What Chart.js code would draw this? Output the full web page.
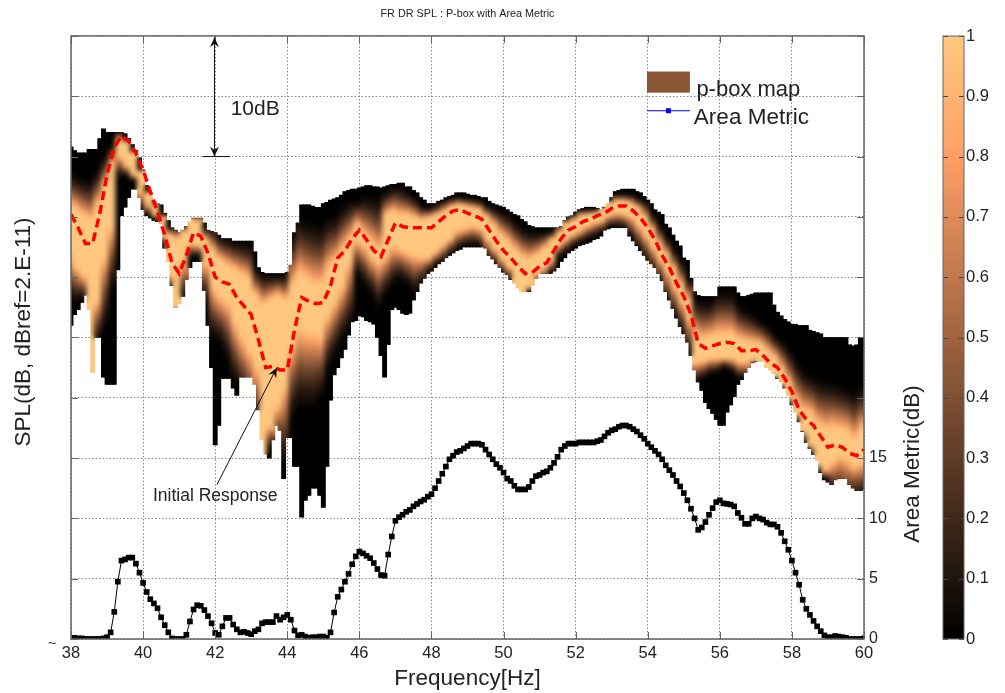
<!DOCTYPE html>
<html>
<head>
<meta charset="utf-8">
<title>FR DR SPL : P-box with Area Metric</title>
<script src="https://cdn.jsdelivr.net/npm/chart.js@4/dist/chart.umd.min.js"></script>
<style>
html, body { margin: 0; padding: 0; background: #fff; }
#wrap { position: relative; width: 1005px; height: 693px; overflow: hidden; }
#main { position: absolute; left: 0; top: 0; }
#bar { position: absolute; left: 930px; top: 0; }
</style>
</head>
<body>
<div id="wrap">
<canvas id="main" width="1005" height="693"></canvas>
<canvas id="bar" width="75" height="693"></canvas>
</div>
<script>
// p-box outline, one column every 0.1 Hz, all values on the 0-50 axis (5 units per grid line)
var upperEdge = [
    40.8,40.5,40.3,40.3,40.3,40.6,40.6,40.6,41.5,42.3,
    42.0,42.0,42.0,42.0,42.0,41.9,41.5,41.0,40.5,39.9,
    38.9,37.6,37.0,36.3,36.1,36.0,35.3,34.7,34.1,33.9,
    33.7,33.9,34.2,34.6,34.9,34.9,34.9,34.5,33.9,33.8,
    33.7,33.5,33.2,33.2,33.2,33.0,33.0,33.0,33.0,33.0,
    33.0,32.1,30.8,30.4,30.3,30.3,30.3,30.3,30.3,30.3,
    30.4,31.0,33.7,34.5,36.0,36.0,36.0,35.9,35.8,35.8,
    36.1,36.2,36.4,36.5,36.6,36.8,37.1,37.2,37.3,37.3,
    37.4,37.5,37.6,37.6,37.5,37.5,37.4,37.5,37.6,37.7,
    37.7,37.8,37.8,37.5,37.5,37.2,37.0,36.6,36.4,36.1,
    36.1,36.1,36.3,36.4,36.6,36.7,36.8,37.0,37.0,37.0,
    36.9,36.8,36.8,36.7,36.6,36.6,36.3,36.1,36.0,35.9,
    35.8,35.6,35.4,35.2,35.1,34.8,34.6,34.3,34.2,34.1,
    34.1,34.1,34.1,34.1,34.1,34.1,34.2,34.7,35.0,35.1,
    35.4,35.6,35.7,35.8,35.8,35.8,35.7,35.6,35.8,36.1,
    36.6,37.1,37.2,37.3,37.3,37.3,37.3,37.1,37.0,36.7,
    36.4,36.1,35.6,35.4,35.2,34.4,34.1,33.5,33.0,32.6,
    31.6,31.4,29.9,28.8,28.5,28.4,28.4,28.4,28.4,28.4,
    29.2,29.2,29.2,29.2,29.2,28.7,28.4,28.4,28.5,28.6,
    28.7,28.7,28.7,28.7,28.7,27.7,27.1,26.8,26.5,26.3,
    26.1,26.1,26.0,26.0,26.0,25.6,25.5,25.4,25.3,25.0,
    25.0,25.0,25.0,25.0,25.0,25.0,24.4,24.3,24.4,25.0,
    25.0
];
var lowerEdge = [
    26.0,26.9,27.3,27.9,28.5,27.3,22.1,25.0,25.0,21.7,
    21.1,21.1,21.1,30.6,35.1,35.8,36.6,37.3,37.3,36.6,
    35.6,35.1,34.9,34.7,34.6,34.4,32.4,31.3,29.3,27.5,
    27.8,28.4,29.8,30.8,31.3,31.3,31.3,28.9,26.0,22.5,
    16.1,17.7,21.6,21.6,21.6,20.8,20.2,21.7,21.7,21.7,
    21.7,21.1,19.0,16.5,15.3,15.0,16.5,17.7,17.3,13.3,
    16.7,16.7,14.3,14.3,10.1,11.5,11.9,12.5,12.5,11.9,
    10.9,14.3,19.8,21.9,22.5,23.3,24.0,25.2,26.3,26.4,
    26.8,26.7,26.4,26.3,26.1,25.0,23.5,21.7,24.4,27.3,
    27.5,27.3,27.0,26.9,27.0,28.1,28.8,29.5,29.9,30.3,
    30.5,30.8,31.1,31.3,31.6,31.8,32.0,32.2,32.3,32.5,
    32.5,32.5,32.5,32.5,32.5,32.4,31.8,31.5,31.1,30.8,
    30.4,30.2,29.8,29.5,29.1,28.8,28.8,28.8,29.3,29.9,
    30.3,30.3,30.3,30.3,30.5,30.8,31.3,31.6,32.0,32.2,
    32.4,32.6,32.7,32.8,32.9,33.1,33.2,33.4,33.9,34.0,
    34.1,34.1,34.1,34.1,34.1,33.4,33.0,32.6,32.2,31.8,
    31.4,31.1,30.8,30.3,29.7,28.8,28.1,27.4,26.6,25.9,
    25.3,24.6,23.5,22.3,21.3,20.6,19.6,19.1,18.7,18.2,
    17.7,17.7,18.8,19.4,20.1,21.1,21.5,22.1,22.5,22.9,
    23.0,23.0,23.0,22.5,22.3,22.0,21.6,21.3,20.8,20.2,
    19.4,18.8,18.0,17.2,16.3,15.8,15.3,14.8,13.8,13.2,
    13.0,12.8,13.2,13.3,13.3,13.3,12.8,12.5,12.3,12.3,
    12.4
];
// shading of the columns, read every 0.2 Hz
// where the column stops being black going down from the top
var darkTop = [
    38.9,38.5,38.2,38.1,38.9,40.1,41.0,42.1,41.5,40.5,
    39.0,37.2,36.4,35.3,34.2,34.2,34.3,35.1,35.1,34.2,
    34.2,33.5,33.3,33.1,33.0,32.9,30.8,30.4,30.3,30.3,
    30.3,33.5,35.1,34.7,34.6,34.3,35.1,35.1,36.0,36.4,
    36.4,36.8,36.8,36.6,37.2,37.6,37.6,37.2,36.7,36.0,
    35.8,36.1,36.4,36.6,36.7,36.6,36.6,36.4,36.0,35.8,
    35.6,35.3,34.7,34.2,33.9,33.8,33.8,33.8,34.3,34.9,
    35.2,35.6,35.6,35.6,35.6,36.4,36.9,36.9,36.9,36.6,
    36.4,35.3,34.4,33.4,32.4,31.4,29.9,28.3,28.1,28.1,
    28.9,28.9,28.9,27.7,27.3,26.9,26.4,26.0,25.2,24.8,
    24.0,23.1,22.3,21.9,21.6,21.5,21.3,21.1,20.8,20.5,
    21.1
];
// the full-brightness part of the column
var coreTop = [
    36.0,35.6,35.1,34.7,36.0,37.6,39.3,41.4,41.1,40.3,
    38.7,36.9,35.9,34.9,33.5,33.2,33.7,34.7,34.6,33.1,
    32.2,31.4,31.0,30.6,30.2,29.8,28.5,27.7,28.1,28.5,
    28.1,29.3,30.2,29.8,29.3,29.3,30.6,31.3,32.2,33.1,
    34.3,33.5,32.8,32.1,35.1,35.4,35.1,35.1,34.9,34.7,
    34.9,35.1,35.4,35.8,36.0,35.9,35.7,35.6,35.0,34.3,
    33.5,32.9,32.2,31.6,31.4,31.8,32.4,33.1,33.7,34.4,
    34.7,35.1,35.2,35.3,35.6,36.1,36.3,36.3,36.1,35.7,
    34.9,33.9,32.7,31.8,30.6,29.3,28.1,25.2,24.8,25.0,
    25.2,25.2,25.2,24.8,24.6,24.5,24.4,23.8,23.3,22.3,
    21.1,19.6,18.8,18.6,17.7,17.3,17.5,17.3,17.2,16.5,
    17.3
];
var coreBottom = [
    32.2,31.0,30.2,22.1,28.1,31.8,34.3,40.1,39.3,38.5,
    37.2,36.0,35.1,33.5,30.2,27.6,31.3,32.8,32.7,31.3,
    29.3,28.5,28.1,26.4,25.2,24.0,22.7,15.0,17.7,19.4,
    21.1,24.4,26.0,25.6,25.6,25.2,26.9,28.1,29.3,31.4,
    33.2,32.7,31.8,31.3,31.8,32.7,32.4,32.1,31.9,31.7,
    31.6,32.1,32.7,33.2,33.9,34.1,34.3,34.1,33.2,32.4,
    31.6,30.9,28.9,28.8,29.3,30.4,30.8,31.4,32.7,33.2,
    33.6,33.9,34.3,34.6,34.7,35.2,35.4,35.3,35.1,34.4,
    33.6,32.6,31.6,30.6,29.3,28.1,26.6,23.0,23.1,23.3,
    23.3,23.3,23.3,23.0,23.0,23.1,23.0,22.3,21.9,21.3,
    20.1,18.8,17.3,16.1,14.6,14.0,14.7,15.3,15.0,14.4,
    14.7
];
// where black starts again going down; may lie below the lower edge
var darkBottom = [
    28.1,27.7,28.1,22.1,24.4,25.6,28.9,38.3,38.3,38.0,
    35.4,35.1,34.9,32.7,28.9,27.3,28.1,31.6,31.6,28.1,
    24.8,24.4,23.1,21.1,19.8,19.0,17.3,14.0,15.7,15.7,
    14.0,18.2,19.0,19.0,19.0,19.8,22.3,23.5,24.8,25.6,
    30.2,29.3,28.5,27.3,28.5,29.3,29.8,29.3,28.5,29.3,
    30.4,31.0,31.2,31.8,32.2,32.5,32.6,32.5,31.6,31.1,
    30.3,29.8,28.8,28.8,29.3,29.3,29.8,30.3,31.6,32.0,
    32.5,32.8,33.1,33.3,33.7,34.1,34.1,34.0,33.2,32.2,
    31.3,30.4,29.5,27.9,26.7,25.4,23.7,21.1,21.5,21.9,
    22.1,22.5,22.1,21.5,21.5,23.1,23.0,22.3,21.9,20.6,
    20.1,18.8,17.3,16.1,14.6,13.2,11.9,11.5,11.1,11.5,
    11.5
];
var initialResponse = [
    35.2,34.1,32.8,32.8,35.3,38.5,40.8,41.7,41.3,40.3,
    38.9,37.1,35.4,33.5,31.2,30.3,31.8,33.7,33.4,32.0,
    30.0,29.6,29.4,28.3,27.6,26.9,24.8,22.5,22.6,22.3,
    22.3,25.6,28.3,28.0,27.8,27.9,29.3,31.6,32.2,33.2,
    33.9,33.1,32.2,31.7,33.1,34.5,34.2,34.1,34.1,34.1,
    34.1,34.6,35.1,35.5,35.6,35.3,35.1,34.8,33.9,33.0,
    32.2,31.6,30.9,30.3,30.4,30.9,31.2,32.2,33.2,33.9,
    34.2,34.6,34.8,35.1,35.3,35.7,35.9,35.9,35.5,34.9,
    34.1,33.1,31.8,30.8,29.5,28.4,26.9,24.5,24.1,24.3,
    24.5,24.6,24.5,23.9,23.9,24.0,23.5,22.9,22.5,21.6,
    20.5,19.0,18.2,17.7,16.8,15.9,16.1,15.9,15.4,15.2,
    15.7
];
// one marker every 0.1 Hz
var areaMetric = [
    0.1,0.1,0.05,0.05,0,0,0,0,0,0.05,
    0.15,0.55,2.25,4.75,6.5,6.6,6.75,6.75,6.25,5.5,
    4.65,3.9,3.3,2.95,2.55,1.8,1.15,0.55,0.05,0,
    0,0,0.35,1.45,2.45,2.8,2.75,2.4,1.9,1.3,
    0.5,0.35,1.05,1.75,1.75,1.2,0.8,0.55,0.6,0.5,
    0.4,0.65,0.8,1.3,1.4,1.4,1.4,1.9,1.6,1.8,
    2.0,1.6,0.7,0.3,0.35,0.2,0.1,0.15,0.15,0.2,
    0.2,0.1,0.55,2.2,3.5,4.1,4.75,5.4,6.2,6.85,
    7.25,7.1,6.9,6.7,6.3,5.8,5.3,5.25,7.0,8.5,
    9.8,10.1,10.3,10.55,10.7,11.0,11.2,11.4,11.55,11.8,
    12.0,12.5,13.1,13.7,14.3,14.9,15.2,15.5,15.6,15.8,
    16.0,16.2,16.2,16.2,16.1,15.7,15.3,14.9,14.5,14.2,
    13.8,13.3,13.1,12.7,12.4,12.4,12.4,12.6,13.1,13.5,
    13.6,13.8,13.9,14.2,14.6,15.1,15.7,16.0,16.2,16.2,
    16.2,16.3,16.3,16.3,16.3,16.3,16.4,16.5,16.8,17.1,
    17.3,17.4,17.6,17.7,17.7,17.6,17.4,17.2,16.9,16.6,
    16.2,15.9,15.6,15.3,14.9,14.4,14.0,13.6,13.1,12.65,
    12.1,11.5,10.8,10.0,9.05,9.25,9.7,10.3,10.85,11.35,
    11.5,11.25,11.2,11.15,11.0,10.45,10.05,9.55,9.55,10.0,
    10.15,10.0,9.9,9.65,9.5,9.5,9.3,8.8,8.1,7.4,
    6.5,5.5,4.5,3.25,2.5,2.0,1.5,1.05,0.65,0.3,
    0.15,0.15,0.25,0.2,0.15,0.1,0,0,0,0,
    0.05
];
var metricTickLabels = [0, 5, 10, 15];
var colorbarRange = [0, 1];
var legendLabels = ['p-box map', 'Area Metric'];

var PLOT = { left: 71, right: 864, top: 36, bottom: 639 };
var TEXT = '#222';
var FONT = '"Liberation Sans", Arial, sans-serif';

// matlab copper
function copper(x) {
    var r = Math.min(255, 255 * 1.25 * x);
    var g = 255 * 0.7812 * x;
    var b = 255 * 0.4975 * x;
    return 'rgb(' + Math.round(r) + ',' + Math.round(g) + ',' + Math.round(b) + ')';
}

function levelAt(v, i) {
    if (v >= darkTop[i]) return v <= coreTop[i] ? 1 : 0;
    // the falloff stays dark for a while and then rises quickly
    if (v > coreTop[i]) return Math.pow((darkTop[i] - v) / (darkTop[i] - coreTop[i]), 1.5);
    if (v >= coreBottom[i]) return 1;
    if (v > darkBottom[i]) return Math.pow((v - darkBottom[i]) / (coreBottom[i] - darkBottom[i]), 1.5);
    return 0;
}

function columnFill(ctx) {
    var j = ctx.dataIndex;
    if (j === undefined) return '#000';
    var scale = ctx.chart.scales.y;
    var hi = upperEdge[j], lo = lowerEdge[j];
    var top = scale.getPixelForValue(hi), bottom = scale.getPixelForValue(lo);
    if (!isFinite(top) || !isFinite(bottom)) return '#000';
    var i = Math.round(j / 2);
    var grad = ctx.chart.ctx.createLinearGradient(0, top, 0, bottom);
    var points = [hi, lo, darkTop[i], coreTop[i], coreBottom[i], darkBottom[i]];
    [0.25, 0.5, 0.75, 0.9].forEach(function (t) {
        points.push(darkTop[i] - t * (darkTop[i] - coreTop[i]));
        points.push(darkBottom[i] + t * (coreBottom[i] - darkBottom[i]));
    });
    points = points.filter(function (v) { return v <= hi && v >= lo; });
    points.sort(function (a, b) { return b - a; });
    points.forEach(function (v) {
        grad.addColorStop((hi - v) / (hi - lo), copper(levelAt(v, i)));
    });
    return grad;
}

var columnBars = upperEdge.map(function (u, j) {
    return { x: 38 + j * 0.1, y: [lowerEdge[j], u] };
});
var responsePoints = initialResponse.map(function (v, i) {
    return { x: 38 + i * 0.2, y: v };
});
var metricPoints = areaMetric.map(function (v, j) {
    return { x: 38 + j * 0.1, y: v };
});

function drawArrowHead(c, x, y, angle, size) {
    c.save();
    c.translate(x, y);
    c.rotate(angle);
    c.beginPath();
    c.moveTo(0, 0);
    c.lineTo(-size, -size * 0.45);
    c.lineTo(-size * 0.65, 0);
    c.lineTo(-size, size * 0.45);
    c.closePath();
    c.fill();
    c.restore();
}

function putText(c, text, x, y, size, align, angle) {
    c.save();
    c.font = size + 'px ' + FONT;
    c.fillStyle = TEXT;
    c.textAlign = align || 'left';
    c.textBaseline = 'middle';
    c.translate(x, y);
    if (angle) c.rotate(angle);
    c.fillText(text, 0, 0);
    c.restore();
}

// soften the shading across columns but keep the stepped outline
var softenPlugin = {
    id: 'soften',
    afterDatasetDraw: function (chart, args) {
        if (args.meta.type !== 'bar') return;
        var c = chart.ctx, a = chart.chartArea;
        var off = document.createElement('canvas');
        off.width = chart.width;
        off.height = chart.height;
        var offCtx = off.getContext('2d');
        c.save();
        c.beginPath();
        c.rect(a.left, a.top, a.right - a.left, a.bottom - a.top);
        c.clip();
        c.beginPath();
        args.meta.data.forEach(function (el) {
            el.draw(offCtx);
            var p = el.getProps(['x', 'y', 'base', 'width'], true);
            c.rect(p.x - p.width / 2, Math.min(p.y, p.base), p.width, Math.abs(p.base - p.y));
        });
        c.clip();
        c.filter = 'blur(2.5px)';
        c.drawImage(off, 0, 0);
        c.restore();
    }
};

// inward tick marks, box, legend and the two notes inside the plot
var notesPlugin = {
    id: 'notes',
    afterDraw: function (chart) {
        var c = chart.ctx, xs = chart.scales.x, ys = chart.scales.y, a = chart.chartArea;
        var px = function (f) { return xs.getPixelForValue(f); };
        var py = function (v) { return ys.getPixelForValue(v); };

        c.save();
        c.strokeStyle = '#666';
        c.lineWidth = 1;
        c.beginPath();
        xs.ticks.forEach(function (t) {
            var x = Math.round(px(t.value)) + 0.5;
            c.moveTo(x, a.bottom); c.lineTo(x, a.bottom - 7);
            c.moveTo(x, a.top); c.lineTo(x, a.top + 7);
        });
        ys.ticks.forEach(function (t) {
            var y = Math.round(py(t.value)) + 0.5;
            c.moveTo(a.left, y); c.lineTo(a.left + 7, y);
            c.moveTo(a.right, y); c.lineTo(a.right - 7, y);
        });
        c.stroke();
        c.lineWidth = 1.5;
        c.strokeRect(a.left, a.top, a.right - a.left, a.bottom - a.top);
        c.restore();

        // legend
        c.save();
        c.fillStyle = '#8B5633';
        c.fillRect(px(53.98), py(47.05), px(55.17) - px(53.98), py(45.3) - py(47.05));
        c.strokeStyle = '#0000ff';
        c.fillStyle = '#0000ff';
        c.lineWidth = 1;
        c.beginPath();
        c.moveTo(px(53.98), py(43.8));
        c.lineTo(px(55.17), py(43.8));
        c.stroke();
        c.fillRect(px(54.575) - 2.5, py(43.8) - 2.5, 5, 5);
        c.restore();
        putText(c, legendLabels[0], px(55.35), py(45.5), 22);
        putText(c, legendLabels[1], px(55.28), py(43.25), 22.5);

        // 10 dB span
        c.save();
        c.strokeStyle = '#111';
        c.fillStyle = '#111';
        c.lineWidth = 1;
        c.beginPath();
        c.moveTo(px(41.98), py(49.9));
        c.lineTo(px(41.98), py(40));
        c.moveTo(px(41.65), py(40));
        c.lineTo(px(42.42), py(40));
        c.stroke();
        drawArrowHead(c, px(41.98), py(49.9), -Math.PI / 2, 10);
        drawArrowHead(c, px(41.98), py(40), Math.PI / 2, 10);
        c.restore();
        putText(c, '10dB', px(42.43), py(43.9), 21);

        // initial response note
        c.save();
        c.strokeStyle = '#111';
        c.fillStyle = '#111';
        c.lineWidth = 1;
        var x0 = px(42.05), y0 = py(12.8), x1 = px(43.71), y1 = py(22.5);
        c.beginPath();
        c.moveTo(x0, y0);
        c.lineTo(x1, y1);
        c.stroke();
        drawArrowHead(c, x1, y1, Math.atan2(y1 - y0, x1 - x0), 10);
        c.restore();
        putText(c, 'Initial Response', px(42.0), py(11.85), 17.5, 'center');

        // axis titles that read upward
        putText(c, 'SPL(dB, dBref=2.E-11)', 24, 332, 22.5, 'center', -Math.PI / 2);
        putText(c, 'Area Metric(dB)', 913, 464, 22.5, 'center', -Math.PI / 2);
        putText(c, '~', 52, 644, 14, 'center');
    }
};

new Chart(document.getElementById('main').getContext('2d'), {
    type: 'bar',
    plugins: [softenPlugin, notesPlugin],
    data: {
        datasets: [{
            type: 'line',
            label: 'Initial Response',
            data: responsePoints,
            borderColor: '#ff0000',
            borderWidth: 3.5,
            borderDash: [9, 5],
            pointRadius: 0,
            tension: 0,
            yAxisID: 'y',
            order: 1
        }, {
            type: 'line',
            label: legendLabels[1],
            data: metricPoints,
            borderColor: '#000',
            borderWidth: 1,
            pointStyle: 'rect',
            pointRadius: 4,
            pointBackgroundColor: '#000',
            pointBorderWidth: 0,
            tension: 0,
            yAxisID: 'yMetric',
            order: 2
        }, {
            type: 'bar',
            label: legendLabels[0],
            data: columnBars,
            backgroundColor: columnFill,
            borderWidth: 0,
            borderSkipped: false,
            barThickness: 4.2,
            yAxisID: 'y',
            order: 3
        }]
    },
    options: {
        responsive: false,
        animation: false,
        events: [],
        layout: { padding: { left: 0, right: 81, top: 0, bottom: 0 } },
        plugins: {
            legend: { display: false },
            tooltip: { enabled: false },
            title: {
                display: true,
                text: 'FR DR SPL : P-box with Area Metric',
                fullSize: false,
                color: TEXT,
                font: { family: FONT, size: 10.8, weight: 'normal' },
                padding: { top: 8, bottom: 15 }
            }
        },
        scales: {
            x: {
                type: 'linear',
                position: 'bottom',
                min: 38,
                max: 60,
                offset: false,
                ticks: {
                    stepSize: 2,
                    autoSkip: false,
                    maxRotation: 0,
                    padding: 5,
                    color: TEXT,
                    font: { family: FONT, size: 16.5 }
                },
                grid: { offset: false, color: '#888', lineWidth: 1, drawTicks: false },
                border: { display: false, dash: [1.5, 2] },
                title: {
                    display: true,
                    text: 'Frequency[Hz]',
                    color: TEXT,
                    font: { family: FONT, size: 22.5 },
                    padding: 0.5
                },
                afterFit: function (s) { s.height = 693 - PLOT.bottom; }
            },
            y: {
                type: 'linear',
                position: 'left',
                min: 0,
                max: 50,
                ticks: { display: false, stepSize: 5 },
                grid: { color: '#888', lineWidth: 1, drawTicks: false },
                border: { display: false, dash: [1.5, 2] },
                afterFit: function (s) { s.width = PLOT.left; }
            },
            yMetric: {
                type: 'linear',
                position: 'right',
                min: 0,
                max: 50,
                ticks: {
                    stepSize: 5,
                    padding: 5,
                    color: TEXT,
                    font: { family: FONT, size: 16 },
                    callback: function (v) {
                        return metricTickLabels.indexOf(v) >= 0 ? String(v) : '';
                    }
                },
                grid: { display: false, drawTicks: false },
                border: { display: false },
                afterFit: function (s) { s.width = 60; }
            }
        }
    }
});

// colorbar, its own little chart on the same vertical span
var colorbarTicksPlugin = {
    id: 'colorbarTicks',
    afterDraw: function (chart) {
        var c = chart.ctx, ys = chart.scales.y, a = chart.chartArea;
        c.save();
        c.strokeStyle = '#444';
        c.lineWidth = 1;
        c.beginPath();
        ys.ticks.forEach(function (t) {
            var y = Math.round(ys.getPixelForValue(t.value)) + 0.5;
            c.moveTo(a.left, y); c.lineTo(a.left + 5, y);
            c.moveTo(a.right, y); c.lineTo(a.right - 5, y);
        });
        c.stroke();
        c.strokeStyle = '#666';
        c.strokeRect(a.left, a.top, a.right - a.left, a.bottom - a.top);
        c.restore();
    }
};

new Chart(document.getElementById('bar').getContext('2d'), {
    type: 'bar',
    plugins: [colorbarTicksPlugin],
    data: {
        labels: ['colormap'],
        datasets: [{
            data: [colorbarRange],
            barPercentage: 1,
            categoryPercentage: 1,
            borderWidth: 0,
            backgroundColor: function (ctx) {
                var a = ctx.chart.chartArea;
                if (!a) return '#000';
                var grad = ctx.chart.ctx.createLinearGradient(0, a.bottom, 0, a.top);
                [0, 0.8, 1].forEach(function (x) { grad.addColorStop(x, copper(x)); });
                return grad;
            }
        }]
    },
    options: {
        responsive: false,
        animation: false,
        events: [],
        layout: { padding: { left: 13, right: 0, top: PLOT.top, bottom: 693 - PLOT.bottom } },
        plugins: { legend: { display: false }, tooltip: { enabled: false } },
        scales: {
            x: { display: false },
            y: {
                position: 'right',
                min: 0,
                max: 1,
                ticks: {
                    stepSize: 0.1,
                    padding: 2,
                    color: TEXT,
                    font: { family: FONT, size: 16.5 },
                    callback: function (v) { return String(Math.round(v * 10) / 10); }
                },
                grid: { display: false, drawTicks: false },
                border: { display: false },
                afterFit: function (s) { s.width = 41; }
            }
        }
    }
});
</script>
</body>
</html>
